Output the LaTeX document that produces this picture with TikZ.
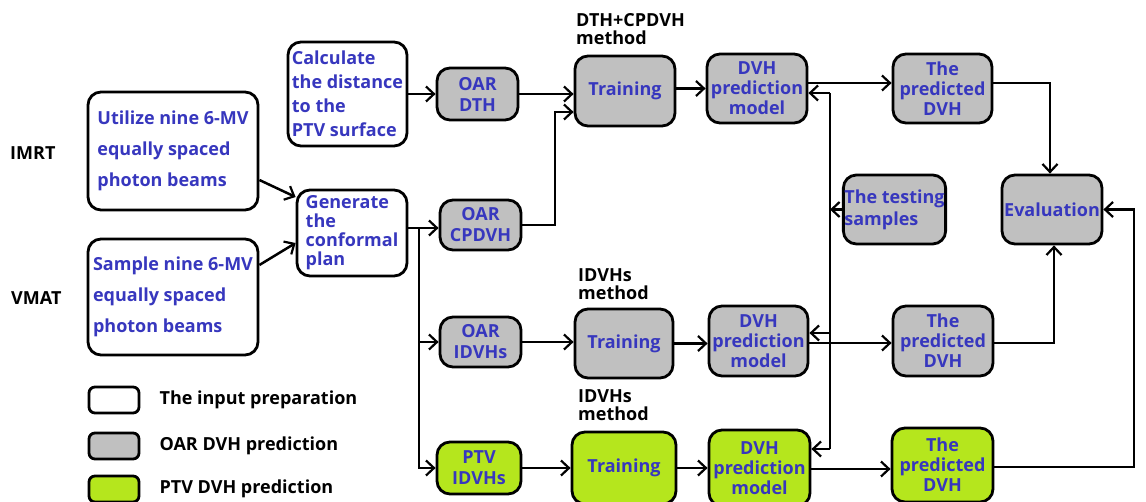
\documentclass[tikz,border=0pt]{standalone}
\usepackage{fontspec}
\setmainfont{Open Sans}
\usetikzlibrary{arrows.meta,positioning}
\definecolor{txtblue}{RGB}{55,55,190}
\definecolor{oargray}{RGB}{192,192,192}
\definecolor{ptvgreen}{RGB}{181,230,29}

\begin{document}
\begin{tikzpicture}[
		x=1pt,y=-1pt,
		box/.style={
			draw,
			line width=2.8pt,
			rounded corners=13pt,
			text=txtblue,
			inner sep=2pt,
			font=\bfseries\fontsize{18}{21}\selectfont,
			align=center
		},
		linesp/.style={font=\bfseries\fontsize{18}{#1}\selectfont},
		inbox/.style={box,fill=white,align=left},
		oarbox/.style={box,fill=oargray},
		ptvbox/.style={box,fill=ptvgreen},
		legbox/.style={draw,line width=2.8pt,rounded corners=6pt,minimum width=50pt,minimum height=26pt},
		lbl/.style={inner sep=0pt,align=left,font=\bfseries\fontsize{18}{18}\selectfont},
		wire/.style={line width=2.5pt},
		>={Straight Barb[length=8pt,width=15pt,line width=2.2pt]}
		]
		\useasboundingbox (0,0) rectangle (1146,502);
		% input preparation
		\node[lbl,anchor=west] (imrt) at (10,153) {IMRT};
		\node[lbl,anchor=west] (vmat) at (11,298) {VMAT};
		\node[inbox,minimum width=170pt,minimum height=118pt,linesp=31] (utilize) at (173,151) {Utilize nine 6-MV\\equally spaced\\photon beams};
		\node[inbox,minimum width=170pt,minimum height=116pt,linesp=31] (sample) at (173,297) {Sample nine 6-MV\\equally spaced\\photon beams};
		\node[inbox,minimum width=119pt,minimum height=104pt,linesp=24] (calc) at (347.5,94) {Calculate\\the distance\\to the\\PTV surface};
		\node[inbox,minimum width=110pt,minimum height=86pt,linesp=19] (generate) at (352,233) {Generate\\the\\conformal\\plan};
		% OAR / PTV inputs
		\node[oarbox,minimum width=81pt,minimum height=52pt] (dth) at (477.5,94) {OAR\\DTH};
		\node[oarbox,minimum width=81pt,minimum height=50pt] (cpdvh) at (480.5,225) {OAR\\CPDVH};
		\node[oarbox,minimum width=81pt,minimum height=50pt] (oidvh) at (480.5,342) {OAR\\IDVHs};
		\node[ptvbox,minimum width=84pt,minimum height=52pt] (pidvh) at (479,468) {PTV\\IDVHs};
		% training
		\node[lbl,anchor=west] (meth1) at (576,29) {DTH+CPDVH\\method};
		\node[lbl,anchor=west] (meth2) at (578,284) {IDVHs\\method};
		\node[lbl,anchor=west] (meth3) at (578,405) {IDVHs\\method};
		\node[oarbox,minimum width=100pt,minimum height=70pt] (train1) at (625,91) {Training};
		\node[oarbox,minimum width=98pt,minimum height=69pt] (train2) at (624,343.5) {Training};
		\node[ptvbox,minimum width=104pt,minimum height=72pt] (train3) at (624,468) {Training};
		% models
		\node[oarbox,minimum width=100pt,minimum height=69pt,linesp=20] (model1) at (757,88.5) {DVH\\prediction\\model};
		\node[oarbox,minimum width=99pt,minimum height=70pt,linesp=20] (model2) at (758.5,341) {DVH\\prediction\\model};
		\node[ptvbox,minimum width=101pt,minimum height=76pt,linesp=20] (model3) at (759.5,468) {DVH\\prediction\\model};
		% predictions
		\node[oarbox,minimum width=99pt,minimum height=69pt,linesp=20] (pred1) at (942.5,88.5) {The\\predicted\\DVH};
		\node[oarbox,minimum width=100pt,minimum height=70pt,linesp=20] (pred2) at (943,341) {The\\predicted\\DVH};
		\node[ptvbox,minimum width=101pt,minimum height=74pt,linesp=20] (pred3) at (942.5,465) {The\\predicted\\DVH};
		\node[oarbox,align=left,inner sep=1pt,minimum width=99pt,minimum height=69pt,linesp=22] (test) at (894.5,209.5) {The testing\\samples};
		\node[oarbox,inner sep=1pt,minimum width=100pt,minimum height=69pt] (eval) at (1052,209.5) {Evaluation};
		% legend
		\foreach \fc/\yy/\tx [count=\li] in {white/400/The input preparation,oargray/446/OAR DVH prediction,ptvgreen/489/PTV DVH prediction}
			{\node[legbox,fill=\fc] (leg\li) at (114,\yy) {};
			\node[lbl,right=19pt of leg\li] (legtxt\li) {\tx};
			}
		% junctions
		\coordinate (gj) at (419,228);
		\coordinate (cj) at (555,112);
		\coordinate (ej) at (1134,467);
		\coordinate (tv1) at (830,93);
		\coordinate (tv2) at (830,333);
		\coordinate (tv3) at (830,449);
		% input -> generate
		\draw[wire,->] ([yshift=-29pt]utilize.east) -- ([yshift=36pt]generate.west);
		\draw[wire,->] ([yshift=32pt]sample.east) -- ([yshift=-10pt]generate.west);
		\draw[wire,->] (calc) -- (dth);
		% generate -> OAR/PTV
		\draw[wire] (generate.east |- gj) -- (gj);
		\draw[wire,->] (gj) -- (gj -| cpdvh.west);
		\draw[wire,->] (gj) |- (oidvh.west);
		\draw[wire,->] (gj) |- (pidvh.west);
		% -> training -> model
		\draw[wire,->] (dth.east) -- (dth.east -| train1.west);
		\draw[wire,->] (cpdvh.east) -| (cj) -- (cj -| train1.west);
		\draw[wire,->] (oidvh.east) -- (oidvh.east -| train2.west);
		\draw[wire,->] (pidvh.east) -- (pidvh.east -| train3.west);
		\draw[wire,->] (train1.east |- model1.west) -- (model1.west);
		\foreach \ti in {2,3}
			\draw[wire,->] (train\ti.east) -- (train\ti.east -| model\ti.west);
		% testing samples
		\draw[wire] (tv1) -- (tv3);
		\draw[wire,->] (test.west) -- (test.west -| tv1);
		\foreach \mi in {1,2,3}
			\draw[wire,->] (tv\mi) -- (tv\mi -| model\mi.east);
		% model -> predicted DVH
		\draw[wire,->] ([yshift=5.5pt]model1.east) -- ([yshift=5.5pt]pred1.west);
		\draw[wire,->] ([yshift=-2pt]model2.east) -- ([yshift=-2pt]pred2.west);
		\draw[wire,->] ([yshift=-1pt]model3.east) -- ([yshift=-1pt]model3.east -| pred3.west);
		% predicted DVH -> evaluation
		\draw[wire,->] ([yshift=5.5pt]pred1.east) -| ([xshift=-2pt]eval.north);
		\draw[wire,->] ([yshift=-2pt]pred2.east) -| ([xshift=2pt]eval.south);
		\draw[wire,->] (pred3.east |- ej) -- (ej) |- (eval.east);
\end{tikzpicture}
\end{document}
